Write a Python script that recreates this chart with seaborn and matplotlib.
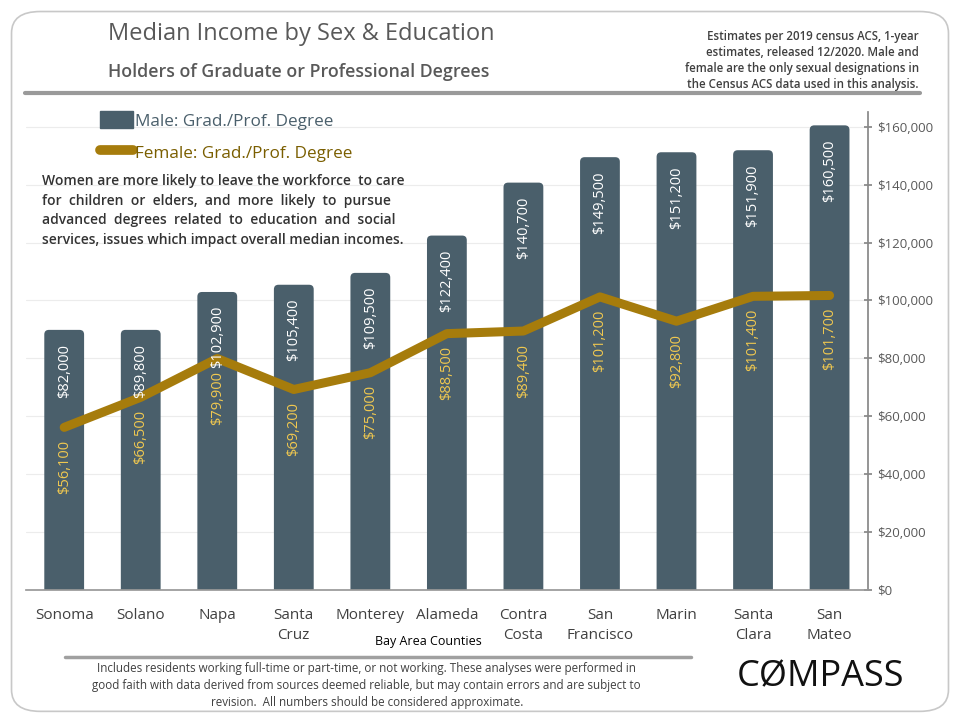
import numpy as np
import pandas as pd
import seaborn as sns
import matplotlib.pyplot as plt
from matplotlib.patches import FancyBboxPatch, Patch
from matplotlib.lines import Line2D
from matplotlib.ticker import FuncFormatter, MultipleLocator

counties = ["Sonoma", "Solano", "Napa", "Santa\nCruz", "Monterey", "Alameda",
            "Contra\nCosta", "San\nFrancisco", "Marin", "Santa\nClara", "San\nMateo"]
# bar heights as drawn in the reference (Sonoma bar is drawn at ~$89.8k but labelled $82,000)
male = [89800, 89800, 102900, 105400, 109500, 122400, 140700, 149500, 151200, 151900, 160500]
male_labels = ["$82,000", "$89,800", "$102,900", "$105,400", "$109,500", "$122,400",
               "$140,700", "$149,500", "$151,200", "$151,900", "$160,500"]
female = [56100, 66500, 79900, 69200, 75000, 88500, 89400, 101200, 92800, 101400, 101700]

bar_col = "#4a5f6b"
line_col = "#a67c0c"
flab_col = "#f0c850"
grey = "#595959"

sns.set_theme(style="white")
plt.rcParams['font.family'] = ['Open Sans', 'DejaVu Sans']

df = pd.DataFrame({"county": counties, "male": male, "female": female})

fig = plt.figure(figsize=(9.6, 7.2), dpi=100)
fig.patches.append(FancyBboxPatch((0.012, 0.012), 0.976, 0.972, boxstyle="round,pad=0,rounding_size=0.03",
                                  transform=fig.transFigure, fc="none", ec="#c8c8c8", lw=1.2, zorder=-1))
ax = fig.add_axes([0.027, 0.181, 0.877, 0.663])
ax.set_facecolor("none")

ymax = 165000
sns.barplot(data=df, x="county", y="male", color=bar_col, width=0.52, saturation=1, ax=ax, zorder=2)
sns.lineplot(x=np.arange(len(counties)), y=df["female"], color=line_col, lw=6.5, ax=ax, zorder=3)

# swap the square bars for ones with rounded top corners (bottom hidden below the axis)
aspect = (ymax / (0.663 * 720)) / (len(counties) / (0.877 * 960))
for bar in list(ax.patches):
    x0, y0, w, h = bar.get_x(), bar.get_y(), bar.get_width(), bar.get_height()
    bar.set_visible(False)
    ax.add_patch(FancyBboxPatch((x0, y0 - 4000), w, h + 4000, boxstyle="round,pad=0,rounding_size=0.06",
                                mutation_aspect=aspect, fc=bar_col, ec="none", zorder=2))

ax.set_ylim(0, ymax)
ax.set_xlim(-0.5, len(counties) - 0.5)
ax.yaxis.tick_right()
ax.yaxis.set_major_locator(MultipleLocator(20000))
ax.yaxis.set_major_formatter(FuncFormatter(lambda v, p: f"${v:,.0f}"))
ax.tick_params(axis="y", direction="inout", length=6, color="#888888", labelsize=9.5,
               labelcolor=grey, pad=4)
ax.grid(axis="y", color="#ececec", lw=0.8, zorder=0)
ax.set_axisbelow(True)

ax.set_xticks(np.arange(len(counties)))
ax.set_xticklabels(counties, fontsize=11, color="#404040", linespacing=1.5)
ax.tick_params(axis="x", length=0, pad=13)
ax.set_xticks(np.arange(len(counties)) + 0.5, minor=True)
ax.tick_params(axis="x", which="minor", length=5, color="#999999", direction="out")
ax.set_xlabel("")
ax.set_ylabel("")
for s in ["top", "left"]:
    ax.spines[s].set_visible(False)
ax.spines["right"].set_color("#888888")
ax.spines["bottom"].set_color("#999999")
ax.spines["bottom"].set_zorder(5)

for i, (m, f) in enumerate(zip(male, female)):
    ax.annotate(male_labels[i], (i, m), xytext=(0, -10), textcoords="offset points",
                rotation=90, ha="center", va="top", color="white", fontsize=10.5, zorder=4)
    ax.annotate(f"${f:,.0f}", (i, f), xytext=(0, -9), textcoords="offset points",
                rotation=90, ha="center", va="top", color=flab_col, fontsize=10.5, zorder=4)

# legend
handles = [Patch(fc=bar_col, ec=bar_col), Line2D([], [], color=line_col, lw=7, solid_capstyle="round")]
leg = ax.legend(handles, ["Male: Grad./Prof. Degree", "Female: Grad./Prof. Degree"],
                loc="upper left", bbox_to_anchor=(0.07, 1.035), frameon=False, fontsize=12.3,
                handlelength=1.9, handleheight=1.2, handletextpad=0.15, labelspacing=0.8)
leg.get_texts()[0].set_color("#4a5f6b")
leg.get_texts()[1].set_color("#7a5e00")

note = ("Women are more likely to leave the workforce  to care\n"
        "for  children  or  elders,  and  more  likely  to  pursue\n"
        "advanced  degrees  related  to  education  and  social\n"
        "services, issues which impact overall median incomes.")
fig.text(0.044, 0.758, note, fontsize=10, color="#333333", va="top", linespacing=1.5,
         fontweight="semibold")

# header
fig.text(0.112, 0.953, "Median Income by Sex & Education", fontsize=17, color=grey, va="center")
fig.text(0.112, 0.900, "Holders of Graduate or Professional Degrees", fontsize=12.8, color=grey,
         va="center", fontweight="semibold")
fig.text(0.957, 0.958, "Estimates per 2019 census ACS, 1-year\nestimates, released 12/2020. Male and\n"
         "female are the only sexual designations in\nthe Census ACS data used in this analysis.",
         fontsize=8.3, color="#404040", ha="right", va="top", linespacing=1.3, fontweight="semibold")
fig.add_artist(Line2D([0.026, 0.958], [0.871, 0.871], color="#9a9a9a", lw=3, transform=fig.transFigure))

# footer
fig.text(0.446, 0.109, "Bay Area Counties", fontsize=9, color="black", ha="center", va="center")
fig.add_artist(Line2D([0.068, 0.72], [0.088, 0.088], color="#a0a0a0", lw=2.5, transform=fig.transFigure))
fig.text(0.382, 0.08, "Includes residents working full-time or part-time, or not working. These analyses were performed in\n"
         "good faith with data derived from sources deemed reliable, but may contain errors and are subject to\n"
         "revision.  All numbers should be considered approximate.",
         fontsize=8.4, color="#404040", ha="center", va="top", linespacing=1.4)
fig.text(0.855, 0.06, "C\u00d8MPASS", fontsize=26, color="#111111", ha="center", va="center")

fig.savefig("out.png", dpi=100)
